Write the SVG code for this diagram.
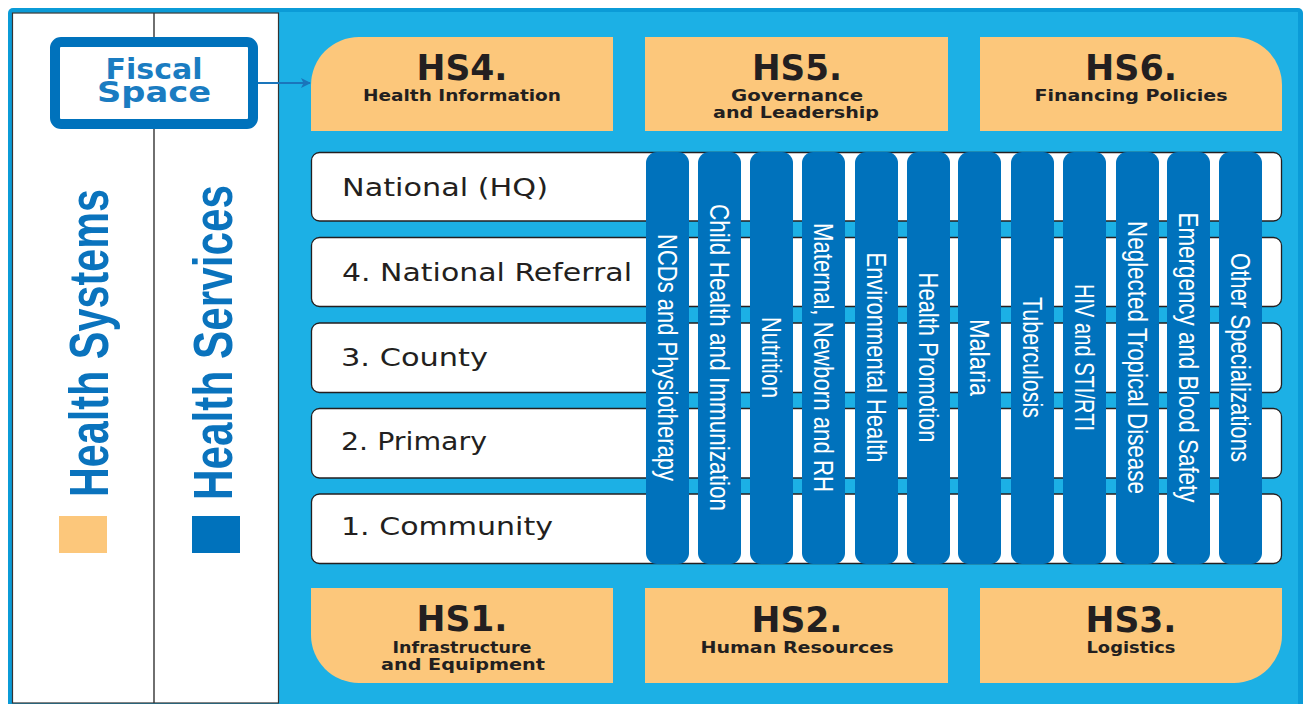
<svg xmlns="http://www.w3.org/2000/svg" width="1303" height="704" viewBox="0 0 1303 704">
<defs>
<style>
.hs{fill:#fcc77b}
.hsT{font-family:"DejaVu Sans",sans-serif;font-weight:bold;fill:#231f20;text-anchor:middle}
.big{font-size:36px}
.sub{font-size:16px}
.row{fill:#ffffff;stroke:#231f20;stroke-width:1.3}
.rowT{font-family:"DejaVu Sans",sans-serif;font-size:25px;fill:#231f20}
.col{fill:#0072bc}
.colT{font-family:"Liberation Sans",sans-serif;font-size:27px;fill:#ffffff;text-anchor:middle}
.side{font-family:"Liberation Sans",sans-serif;font-weight:bold;font-size:56px;fill:#0a73bd;text-anchor:middle}
</style>
<marker id="ah" markerWidth="10" markerHeight="10" refX="9" refY="5" orient="auto" markerUnits="userSpaceOnUse">
<path d="M0,0 L10,5 L0,10 L2.5,5 Z" fill="#1a75bb"/>
</marker>
</defs>

<!-- frame -->
<rect x="8" y="8" width="1295" height="700" rx="5" fill="#0b9bd7"/>
<rect x="12" y="12" width="1286" height="694" fill="#1cb0e5"/>
<rect x="12.5" y="13" width="266" height="690" fill="#ffffff" stroke="#333333" stroke-width="1.2"/>
<line x1="154" y1="13" x2="154" y2="703" stroke="#333333" stroke-width="1.4"/>

<g id="health-systems">
<text class="side" transform="translate(107.5,343) rotate(-90)" textLength="308" lengthAdjust="spacingAndGlyphs">Health Systems</text>
<rect x="59" y="516" width="48" height="37" fill="#fcc77b"/>
</g>
<g id="health-services">
<text class="side" transform="translate(231.5,342.5) rotate(-90)" textLength="315" lengthAdjust="spacingAndGlyphs">Health Services</text>
<rect x="192" y="516" width="48" height="37" fill="#0072bc"/>
</g>

<g id="fiscal-space">
<rect x="55" y="42" width="198" height="82" rx="6" fill="#ffffff" stroke="#0072bc" stroke-width="10"/>
<text font-family="DejaVu Sans, sans-serif" font-weight="bold" font-size="29" fill="#1a7cc1" text-anchor="middle"><tspan x="154" y="79" textLength="97" lengthAdjust="spacingAndGlyphs">Fiscal</tspan><tspan x="154" y="102" textLength="114" lengthAdjust="spacingAndGlyphs">Space</tspan></text>
</g>

<g id="connectors">
<line x1="258" y1="83" x2="310" y2="83" stroke="#1a75bb" stroke-width="2" marker-end="url(#ah)"/>
</g>

<g id="hs4">
<path class="hs" d="M311,131 L311,85 A48,48 0 0 1 359,37 L613,37 L613,131 Z"/>
<text class="hsT big" x="462" y="80" textLength="91" lengthAdjust="spacingAndGlyphs">HS4.</text>
<text class="hsT sub" x="462" y="101" textLength="198" lengthAdjust="spacingAndGlyphs">Health Information</text>
</g>
<g id="hs5">
<rect class="hs" x="645" y="37" width="303" height="94"/>
<text class="hsT big" x="797" y="80" textLength="90" lengthAdjust="spacingAndGlyphs">HS5.</text>
<text class="hsT sub"><tspan x="797" y="101" textLength="132" lengthAdjust="spacingAndGlyphs">Governance</tspan><tspan x="796" y="118" textLength="166" lengthAdjust="spacingAndGlyphs">and Leadership</tspan></text>
</g>
<g id="hs6">
<path class="hs" d="M980,37 L1234,37 A48,48 0 0 1 1282,85 L1282,131 L980,131 Z"/>
<text class="hsT big" x="1131" y="80" textLength="92" lengthAdjust="spacingAndGlyphs">HS6.</text>
<text class="hsT sub" x="1131" y="101" textLength="193" lengthAdjust="spacingAndGlyphs">Financing Policies</text>
</g>
<g id="hs1">
<path class="hs" d="M311,588 L613,588 L613,683 L359,683 A48,48 0 0 1 311,635 Z"/>
<text class="hsT big" x="462" y="631" textLength="91" lengthAdjust="spacingAndGlyphs">HS1.</text>
<text class="hsT sub"><tspan x="462" y="653" textLength="139" lengthAdjust="spacingAndGlyphs">Infrastructure</tspan><tspan x="463" y="670" textLength="164" lengthAdjust="spacingAndGlyphs">and Equipment</tspan></text>
</g>
<g id="hs2">
<rect class="hs" x="645" y="588" width="303" height="95"/>
<text class="hsT big" x="797" y="632" textLength="91" lengthAdjust="spacingAndGlyphs">HS2.</text>
<text class="hsT sub" x="797" y="653" textLength="193" lengthAdjust="spacingAndGlyphs">Human Resources</text>
</g>
<g id="hs3">
<path class="hs" d="M980,588 L1282,588 L1282,635 A48,48 0 0 1 1234,683 L980,683 Z"/>
<text class="hsT big" x="1131" y="632" textLength="91" lengthAdjust="spacingAndGlyphs">HS3.</text>
<text class="hsT sub" x="1131" y="653" textLength="89" lengthAdjust="spacingAndGlyphs">Logistics</text>
</g>

<g id="level-national-hq">
<rect class="row" x="311.5" y="152.5" width="970" height="68.5" rx="8"/>
<text class="rowT" x="342" y="196" textLength="206" lengthAdjust="spacingAndGlyphs">National (HQ)</text>
</g>
<g id="level-national-referral">
<rect class="row" x="311.5" y="237.5" width="970" height="69" rx="8"/>
<text class="rowT" x="342" y="281" textLength="290" lengthAdjust="spacingAndGlyphs">4. National Referral</text>
</g>
<g id="level-county">
<rect class="row" x="311.5" y="323" width="970" height="69.5" rx="8"/>
<text class="rowT" x="341" y="366" textLength="147" lengthAdjust="spacingAndGlyphs">3. County</text>
</g>
<g id="level-primary">
<rect class="row" x="311.5" y="408.5" width="970" height="69.5" rx="8"/>
<text class="rowT" x="341" y="450" textLength="146" lengthAdjust="spacingAndGlyphs">2. Primary</text>
</g>
<g id="level-community">
<rect class="row" x="311.5" y="494" width="970" height="69.5" rx="8"/>
<text class="rowT" x="341" y="535" textLength="212" lengthAdjust="spacingAndGlyphs">1. Community</text>
</g>

<g id="col-ncds">
<rect class="col" x="646" y="152" width="43" height="412" rx="11"/>
<text class="colT" transform="translate(667.5,357.5) rotate(90)" y="10" textLength="247" lengthAdjust="spacingAndGlyphs">NCDs and Physiotherapy</text>
</g>
<g id="col-child-health">
<rect class="col" x="698" y="152" width="43" height="412" rx="11"/>
<text class="colT" transform="translate(719.5,357.5) rotate(90)" y="10" textLength="307" lengthAdjust="spacingAndGlyphs">Child Health and Immunization</text>
</g>
<g id="col-nutrition">
<rect class="col" x="750" y="152" width="43" height="412" rx="11"/>
<text class="colT" transform="translate(771.5,357.5) rotate(90)" y="10" textLength="81" lengthAdjust="spacingAndGlyphs">Nutrition</text>
</g>
<g id="col-maternal">
<rect class="col" x="802" y="152" width="43" height="412" rx="11"/>
<text class="colT" transform="translate(823.5,357.5) rotate(90)" y="10" textLength="269" lengthAdjust="spacingAndGlyphs">Maternal, Newborn and RH</text>
</g>
<g id="col-environmental">
<rect class="col" x="855" y="152" width="43" height="412" rx="11"/>
<text class="colT" transform="translate(876.5,357.5) rotate(90)" y="10" textLength="210" lengthAdjust="spacingAndGlyphs">Environmental Health</text>
</g>
<g id="col-health-promotion">
<rect class="col" x="907" y="152" width="43" height="412" rx="11"/>
<text class="colT" transform="translate(928.5,357.5) rotate(90)" y="10" textLength="170" lengthAdjust="spacingAndGlyphs">Health Promotion</text>
</g>
<g id="col-malaria">
<rect class="col" x="958" y="152" width="43" height="412" rx="11"/>
<text class="colT" transform="translate(979.5,357.5) rotate(90)" y="10" textLength="77" lengthAdjust="spacingAndGlyphs">Malaria</text>
</g>
<g id="col-tuberculosis">
<rect class="col" x="1011" y="152" width="43" height="412" rx="11"/>
<text class="colT" transform="translate(1032.5,357.5) rotate(90)" y="10" textLength="121" lengthAdjust="spacingAndGlyphs">Tuberculosis</text>
</g>
<g id="col-hiv">
<rect class="col" x="1063" y="152" width="43" height="412" rx="11"/>
<text class="colT" transform="translate(1084.5,357.5) rotate(90)" y="10" textLength="147" lengthAdjust="spacingAndGlyphs">HIV and STI/RTI</text>
</g>
<g id="col-ntd">
<rect class="col" x="1116" y="152" width="43" height="412" rx="11"/>
<text class="colT" transform="translate(1137.5,357.5) rotate(90)" y="10" textLength="273" lengthAdjust="spacingAndGlyphs">Neglected Tropical Disease</text>
</g>
<g id="col-emergency">
<rect class="col" x="1167" y="152" width="43" height="412" rx="11"/>
<text class="colT" transform="translate(1188.5,357.5) rotate(90)" y="10" textLength="290" lengthAdjust="spacingAndGlyphs">Emergency and Blood Safety</text>
</g>
<g id="col-other">
<rect class="col" x="1219" y="152" width="43" height="412" rx="11"/>
<text class="colT" transform="translate(1240.5,357.5) rotate(90)" y="10" textLength="209" lengthAdjust="spacingAndGlyphs">Other Specializations</text>
</g>
</svg>
